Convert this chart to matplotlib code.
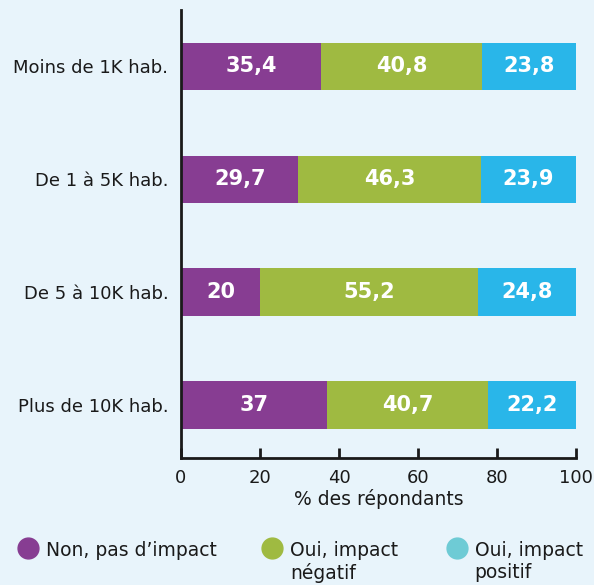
import matplotlib.pyplot as plt
from matplotlib.lines import Line2D

# Données
categories = ["Moins de 1K hab.", "De 1 à 5K hab.", "De 5 à 10K hab.", "Plus de 10K hab."]
non_impact = [35.4, 29.7, 20, 37]
impact_negatif = [40.8, 46.3, 55.2, 40.7]
impact_positif = [23.8, 23.9, 24.8, 22.2]
series_labels = ["Non, pas d\u2019impact", "Oui, impact\nnégatif", "Oui, impact\npositif"]

BG = "#e8f4fb"
COLORS = ["#873d92", "#9fba41", "#29b6e9"]
LEGEND_COLORS = ["#873d92", "#9fba41", "#6ecbd5"]

plt.rcParams["font.family"] = ["DejaVu Sans"]

fig = plt.figure(figsize=(5.94, 5.85), dpi=100, facecolor=BG)
ax = fig.add_axes([0.3047, 0.217, 0.665, 0.766])
ax.set_facecolor(BG)

ypos = list(range(len(categories)))[::-1]
left = [0] * len(categories)
for vals, color in zip([non_impact, impact_negatif, impact_positif], COLORS):
    bars = ax.barh(ypos, vals, left=left, height=0.42, color=color)
    for b, v in zip(bars, vals):
        txt = f"{v:g}".replace(".", ",")
        ax.text(b.get_x() + b.get_width() / 2, b.get_y() + b.get_height() / 2, txt,
                ha="center", va="center", color="white", fontsize=15, fontweight="bold")
    left = [l + v for l, v in zip(left, vals)]

ax.set_xlim(0, 100)
ax.set_ylim(-0.47, 3.5)
ax.set_yticks(ypos)
ax.set_yticklabels(categories, fontsize=13, color="#1a1a1a")
ax.tick_params(axis="y", length=0, pad=9)
ax.set_xticks([0, 20, 40, 60, 80, 100])
ax.tick_params(axis="x", direction="in", length=7, width=2, labelsize=13,
               colors="#1a1a1a", pad=8)
ax.set_xlabel("% des répondants", fontsize=13.5, color="#1a1a1a", labelpad=1)
for s in ["top", "right"]:
    ax.spines[s].set_visible(False)
for s in ["left", "bottom"]:
    ax.spines[s].set_linewidth(2)
    ax.spines[s].set_color("#1a1a1a")

# Légende manuelle
leg_x = [0.047, 0.458, 0.769]
for x, lab, c in zip(leg_x, series_labels, LEGEND_COLORS):
    fig.add_artist(Line2D([x], [0.0632], marker="o", markersize=15, color=c,
                          linestyle="none", transform=fig.transFigure))
    fig.text(x + 0.03, 0.076, lab, ha="left", va="top", fontsize=13.5,
             color="#1a1a1a", linespacing=1.2)

fig.savefig("out.png", dpi=100, facecolor=BG)
